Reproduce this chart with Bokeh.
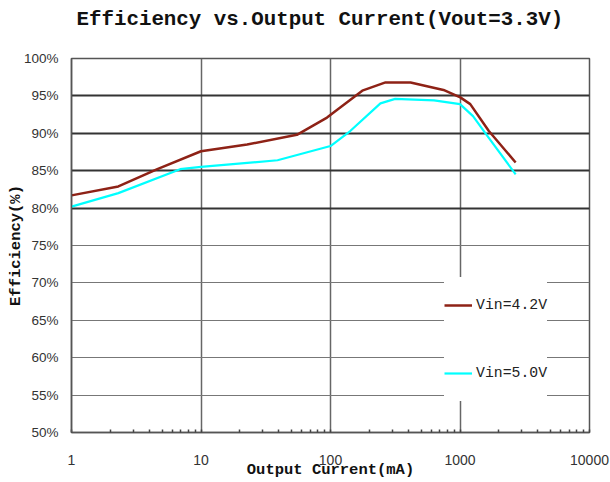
from bokeh.plotting import figure
from bokeh.models import (Range1d, LogTicker, FixedTicker, PrintfTickFormatter,
                          Grid, Legend, LegendItem, Title)
from bokeh.embed import file_html
from bokeh.resources import INLINE

# ---- data ----
current_vin42 = [1, 2.3, 4.6, 10, 22.7, 55, 94, 176, 266, 415, 745, 1005, 1200, 1670, 2690]
eff_vin42 = [81.7, 82.9, 85.2, 87.6, 88.5, 89.8, 92.1, 95.7, 96.8, 96.8, 95.8, 94.8, 93.9, 90.3, 86.1]

current_vin50 = [1, 2.3, 6.9, 10, 39, 100, 142, 243, 316, 630, 1000, 1260, 1620, 2690]
eff_vin50 = [80.2, 82.0, 85.2, 85.5, 86.4, 88.3, 90.3, 94.0, 94.6, 94.4, 93.9, 92.3, 89.7, 84.5]

chart_title = "Efficiency vs.Output Current(Vout=3.3V)"
series_labels = ["Vin=4.2V", "Vin=5.0V"]
x_grid_ticks = [10, 100, 1000]
y_ticks = [50, 55, 60, 65, 70, 75, 80, 85, 90, 95, 100]
y_light_grid = [55, 60, 65, 70, 75]
y_dark_grid = [80, 85, 90, 95]

BROWN = "#8e2216"
CYAN = "#00ffff"

p = figure(width=610, height=482, x_axis_type="log",
           x_range=Range1d(1, 10000), y_range=Range1d(50, 100),
           output_backend="svg", toolbar_location=None,
           min_border_left=71, min_border_right=21,
           min_border_top=58, min_border_bottom=50)

p.background_fill_color = "white"
p.border_fill_color = "white"
p.outline_line_color = "#555555"
p.outline_line_width = 1.5

# spacer between frame and title, then the title itself (outermost)
spacer = Title(text=" ", text_font_size="10px")
p.add_layout(spacer, "above")
main_title = Title(text=chart_title, text_font="Liberation Mono",
                   text_font_size="20.8px", text_font_style="bold",
                   text_color="#111111", align="left", offset=5)
p.add_layout(main_title, "above")

# x axis
p.xaxis.ticker = LogTicker(mantissas=[1], num_minor_ticks=10)
p.xaxis.formatter = PrintfTickFormatter(format="%d")
p.xaxis.axis_label = "Output Current(mA)"
p.xaxis.axis_label_text_font = "Liberation Mono"
p.xaxis.axis_label_text_font_size = "15.5px"
p.xaxis.axis_label_text_font_style = "bold"
p.xaxis.axis_label_text_color = "#111111"
p.xaxis.axis_label_standoff = -7
p.xaxis.major_label_text_font = "Liberation Sans"
p.xaxis.major_label_text_font_size = "14px"
p.xaxis.major_label_text_color = "#333333"
p.xaxis.major_label_standoff = 22
p.xaxis.major_tick_in = 0
p.xaxis.major_tick_out = 0
p.xaxis.minor_tick_in = 3
p.xaxis.minor_tick_out = 0
p.xaxis.minor_tick_line_color = "#444444"
p.xaxis.minor_tick_line_width = 1.5
p.xaxis.axis_line_color = "#555555"
p.xaxis.axis_line_width = 1.5

# y axis
p.yaxis.ticker = FixedTicker(ticks=y_ticks)
p.yaxis.formatter = PrintfTickFormatter(format="%d%%")
p.yaxis.axis_label = "Efficiency(%)"
p.yaxis.axis_label_text_font = "Liberation Mono"
p.yaxis.axis_label_text_font_size = "15.5px"
p.yaxis.axis_label_text_font_style = "bold"
p.yaxis.axis_label_text_color = "#111111"
p.yaxis.axis_label_standoff = -4
p.yaxis.major_label_text_font = "Liberation Sans"
p.yaxis.major_label_text_font_size = "13.5px"
p.yaxis.major_label_text_color = "#333333"
p.yaxis.major_label_standoff = 13
p.yaxis.major_tick_in = 0
p.yaxis.major_tick_out = 0
p.yaxis.minor_tick_line_color = None
p.yaxis.axis_line_color = "#555555"
p.yaxis.axis_line_width = 1.5

# grids
p.xgrid.ticker = FixedTicker(ticks=x_grid_ticks)
p.xgrid.grid_line_color = "#666666"
p.xgrid.grid_line_width = 1.5
p.ygrid.ticker = FixedTicker(ticks=y_light_grid)
p.ygrid.grid_line_color = "#777777"
p.ygrid.grid_line_width = 1.2
dark_grid = Grid(dimension=1, ticker=FixedTicker(ticks=y_dark_grid),
                 grid_line_color="#333333", grid_line_width=2)
p.add_layout(dark_grid)

# curves
r42 = p.line(current_vin42, eff_vin42, line_color=BROWN, line_width=2.5)
r50 = p.line(current_vin50, eff_vin50, line_color=CYAN, line_width=2.2)

legend = Legend(items=[LegendItem(label=series_labels[0], renderers=[r42]),
                       LegendItem(label=series_labels[1], renderers=[r50])],
                location=(373, 31))
legend.background_fill_color = "white"
legend.background_fill_alpha = 1.0
legend.border_line_color = None
legend.padding = 8
legend.margin = 0
legend.spacing = 12
legend.glyph_width = 28
legend.glyph_height = 56
legend.label_height = 56
legend.label_standoff = 4
legend.label_width = 71
legend.label_text_font = "Liberation Mono"
legend.label_text_font_size = "14.8px"
legend.label_text_color = "#222222"
p.add_layout(legend, "center")

open("out.html", "w").write(file_html(p, INLINE))
